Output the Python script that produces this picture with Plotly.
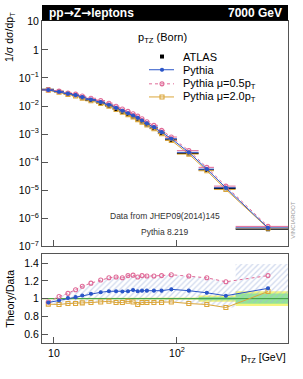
import plotly.graph_objects as go

# ---------------- data ----------------
bin_lo = [8, 10, 12, 14, 16, 18, 22, 26, 30, 34, 38, 42, 46, 50, 54, 60, 70, 80, 100, 150, 200, 300]
bin_hi = [10, 12, 14, 16, 18, 22, 26, 30, 34, 38, 42, 46, 50, 54, 60, 70, 80, 100, 150, 200, 300, 800]
atlas = [0.039, 0.033, 0.0275, 0.024, 0.020, 0.016, 0.0129, 0.0102, 0.0079, 0.0063, 0.0051,
         0.0042, 0.0035, 0.0028, 0.0022, 0.00163, 0.00108, 0.00062, 0.000205, 5.3e-5, 1.18e-5, 4.1e-7]
pythia_ratio = [0.956, 0.98, 1.007, 1.017, 1.036, 1.055, 1.072, 1.083, 1.083, 1.08, 1.083,
                1.098, 1.083, 1.09, 1.09, 1.09, 1.09, 1.105, 1.09, 1.066, 1.033, 1.116]
mu05_ratio = [0.963, 1.025, 1.06, 1.10, 1.14, 1.175, 1.21, 1.235, 1.245, 1.235, 1.26,
              1.265, 1.245, 1.26, 1.255, 1.255, 1.26, 1.27, 1.255, 1.235, 1.19, 1.26]
mu20_ratio = [0.938, 0.934, 0.945, 0.945, 0.952, 0.956, 0.963, 0.97, 0.956, 0.956, 0.97,
              0.963, 0.934, 0.956, 0.956, 0.956, 0.956, 0.963, 0.945, 0.934, 0.90, 1.08]
hatch_up = [0.963, 1.025, 1.06, 1.10, 1.14, 1.175, 1.21, 1.235, 1.245, 1.235, 1.26,
            1.265, 1.245, 1.26, 1.255, 1.255, 1.26, 1.27, 1.255, 1.235, 1.19, 1.39]
hatch_dn = [0.938, 0.934, 0.945, 0.945, 0.952, 0.956, 0.963, 0.97, 0.956, 0.956, 0.97,
            0.963, 0.934, 0.956, 0.956, 0.956, 0.956, 0.963, 0.945, 0.934, 0.90, 0.95]
data_err_tot = [0.008] * 18 + [0.012, 0.036, 0.036, 0.084]
data_err_stat = [0.004] * 18 + [0.006, 0.018, 0.018, 0.058]

centers = [(a + b) / 2 for a, b in zip(bin_lo, bin_hi)]
ex_p = [b - c for b, c in zip(bin_hi, centers)]
ex_m = [c - a for a, c in zip(bin_lo, centers)]
pythia = [d * r for d, r in zip(atlas, pythia_ratio)]
mu05 = [d * r for d, r in zip(atlas, mu05_ratio)]
mu20 = [d * r for d, r in zip(atlas, mu20_ratio)]

BLUE = "#2a55c8"
PINK = "#e06a98"
GOLD = "#dba63a"
FONT = "Liberation Sans"

SERIES = [("mu20", GOLD, "solid", "square-open", 4),
          ("mu05", PINK, "dot", "circle-open", 4),
          ("pythia", BLUE, "solid", "circle", 3)]

fig = go.Figure()

# ---------------- main panel ----------------
fig.add_trace(go.Scatter(x=centers, y=atlas, mode="markers", xaxis="x", yaxis="y",
                         marker=dict(symbol="square", size=4, color="black"),
                         error_x=dict(type="data", array=ex_p, arrayminus=ex_m, color="black",
                                      thickness=1.3, width=0),
                         error_y=dict(type="percent", value=4, color="black", thickness=1, width=0),
                         showlegend=False))
main_vals = {"mu20": mu20, "mu05": mu05, "pythia": pythia}
for key, col, dash, sym, ms in SERIES:
    fig.add_trace(go.Scatter(x=centers, y=main_vals[key], mode="lines+markers", xaxis="x", yaxis="y",
                             line=dict(color=col, width=1, dash=dash),
                             marker=dict(symbol=sym, size=ms, color=col, line=dict(color=col, width=1.1)),
                             error_x=dict(type="data", array=ex_p, arrayminus=ex_m, color=col,
                                          thickness=1, width=0),
                             showlegend=False))

# ---------------- ratio panel ----------------
def step_poly(lo, hi, up, dn):
    xs, ys = [], []
    for a, b, u in zip(lo, hi, up):
        xs += [a, b]
        ys += [u, u]
    for a, b, d in reversed(list(zip(lo, hi, dn))):
        xs += [b, a]
        ys += [d, d]
    return xs, ys

tx, ty = step_poly(bin_lo, bin_hi, [1 + e for e in data_err_tot], [1 - e for e in data_err_tot])
fig.add_trace(go.Scatter(x=tx, y=ty, fill="toself", fillcolor="#f4f47c", line=dict(width=0),
                         mode="lines", xaxis="x2", yaxis="y2", showlegend=False, hoverinfo="skip"))
sx, sy = step_poly(bin_lo, bin_hi, [1 + e for e in data_err_stat], [1 - e for e in data_err_stat])
fig.add_trace(go.Scatter(x=sx, y=sy, fill="toself", fillcolor="#94e694", line=dict(width=0),
                         mode="lines", xaxis="x2", yaxis="y2", showlegend=False, hoverinfo="skip"))

# hatched scale-variation band: through bin centres, last bin as a box
hx = centers[:-1] + [bin_lo[-1], bin_lo[-1], bin_hi[-1], bin_hi[-1], bin_lo[-1], bin_lo[-1]] + centers[:-1][::-1]
hy = hatch_up[:-1] + [hatch_up[-2], hatch_up[-1], hatch_up[-1], hatch_dn[-1], hatch_dn[-1], hatch_dn[-2]] + hatch_dn[:-1][::-1]
fig.add_trace(go.Scatter(x=hx, y=hy, fill="toself", fillcolor="rgba(0,0,0,0)",
                         fillpattern=dict(shape="/", fgcolor="#9fb2dc", size=4, solidity=0.3),
                         line=dict(width=0), mode="lines", xaxis="x2", yaxis="y2",
                         showlegend=False, hoverinfo="skip"))
fig.add_trace(go.Scatter(x=[bin_lo[0], bin_hi[-1]], y=[1, 1], mode="lines", line=dict(color="#3d9a3d", width=1),
                         xaxis="x2", yaxis="y2", showlegend=False, hoverinfo="skip"))
ratio_vals = {"mu20": mu20_ratio, "mu05": mu05_ratio, "pythia": pythia_ratio}
for key, col, dash, sym, ms in SERIES:
    fig.add_trace(go.Scatter(x=centers, y=ratio_vals[key], mode="lines+markers", xaxis="x2", yaxis="y2",
                             line=dict(color=col, width=1, dash=dash),
                             marker=dict(symbol=sym, size=ms, color=col, line=dict(color=col, width=1.1)),
                             showlegend=False))

# ---------------- legend (overlay axis in pixel units) ----------------
leg_y = [52.3, 65.7, 80, 93.3]
fig.add_trace(go.Scatter(x=[162], y=[leg_y[0]], mode="markers", xaxis="x3", yaxis="y3",
                         marker=dict(symbol="square", size=4, color="black"), showlegend=False))
for yy, (key, col, dash, sym, ms) in zip(leg_y[1:], SERIES[::-1]):
    fig.add_trace(go.Scatter(x=[149, 174], y=[yy, yy], mode="lines", xaxis="x3", yaxis="y3",
                             line=dict(color=col, width=1, dash=dash), showlegend=False))
    fig.add_trace(go.Scatter(x=[162], y=[yy], mode="markers", xaxis="x3", yaxis="y3",
                             marker=dict(symbol=sym, size=ms, color=col, line=dict(color=col, width=1.1)),
                             showlegend=False))

W, H = 303, 379
L, R, T, B = 42, 15, 0, 36
PW, PH = W - L - R, H - T - B


def px(x):
    return (x - L) / PW


def py(y):
    return (PH - y) / PH


ann = []


def text(x, y, s, size=11, color="black", xa="left", ya="middle", angle=0, bold=False):
    ann.append(dict(x=px(x), y=py(y), xref="paper", yref="paper", text=(f"<b>{s}</b>" if bold else s),
                    showarrow=False, xanchor=xa, yanchor=ya, textangle=angle,
                    font=dict(family=FONT, size=size, color=color)))


ARROW = "<span style='font-family:DejaVu Sans'>→</span>"
text(47, 8.5, f"pp{ARROW}Z{ARROW}leptons", 12, "white", bold=True)
text(284, 8.5, "7000 GeV", 12, "white", xa="right", bold=True)
text(136, 33, "p<sub>TZ</sub> (Born)", 11)
for yy, s in zip(leg_y, ["ATLAS", "Pythia", "Pythia μ=0.5p<sub>T</sub>", "Pythia μ=2.0p<sub>T</sub>"]):
    text(181, yy, s, 11)
text(164.5, 214, "Data from JHEP09(2014)145", 8.5, "#333", xa="center")
text(164.5, 230, "Pythia 8.219", 8.5, "#333", xa="center")
text(293, 218, "VINCIAROOT", 6, "#999", xa="center", angle=-90)
text(10, 5, "1/σ dσ/dp<sub>T</sub>", 10.5, xa="center", ya="top", angle=-90)
text(10, 298, "Theory/Data", 10.5, xa="center", angle=-90)
text(288, 358, "p<sub>TZ</sub> [GeV]", 10.5, xa="right")

yh = 16
shapes = [dict(type="rect", xref="paper", yref="paper", x0=0, x1=1, y0=py(yh), y1=py(0),
               fillcolor="black", line=dict(width=0), layer="above")]

# tick positions (layout only)
x_major = [10, 100]
x_minor = [9] + [k * 10 for k in range(2, 10)] + [k * 100 for k in range(2, 9)]
y_major = [10.0 ** p for p in range(-7, 2)]
y_major_txt = ["10<sup>−%d</sup>" % (-p) for p in range(-7, 0)] + ["1", "10"]
y_minor = [k * 10.0 ** p for p in range(-7, 1) for k in range(2, 10)]

axcol = "#555"
tickfont = dict(family=FONT, size=10.5, color="black")
XR = [0.903, 2.903]
YR = [-7, 1.035]


def xax(**kw):
    d = dict(type="log", range=XR, ticks="inside", tickcolor=axcol, showgrid=False, zeroline=False,
             showline=True, linecolor=axcol, mirror=True, tickfont=tickfont)
    d.update(kw)
    return d


fig.update_layout(
    width=W, height=H, margin=dict(l=L, r=R, t=T, b=B),
    paper_bgcolor="white", plot_bgcolor="rgba(0,0,0,0)",
    font=dict(family=FONT, size=10.5, color="black"),
    xaxis=xax(anchor="y", domain=[0, 1], tickvals=x_major, ticklen=6, showticklabels=False),
    xaxis4=xax(anchor="y", overlaying="x", side="bottom", tickvals=x_minor, ticklen=3,
               showticklabels=False, showline=False),
    yaxis=dict(type="log", range=YR, domain=[py(245), py(yh)], anchor="x",
               tickvals=y_major, ticktext=y_major_txt, ticklen=6, ticks="inside", tickcolor=axcol,
               showgrid=False, zeroline=False, showline=True, linecolor=axcol, mirror=True,
               tickfont=tickfont),
    yaxis5=dict(type="log", range=YR, anchor="x", overlaying="y", side="left",
                tickvals=y_minor, ticks="inside", ticklen=3, showticklabels=False,
                tickcolor=axcol, showgrid=False, zeroline=False, showline=False),
    xaxis2=xax(anchor="y2", domain=[0, 1], tickvals=x_major, ticktext=["10", "10<sup>2</sup>"], ticklen=6),
    xaxis6=xax(anchor="y2", overlaying="x2", side="bottom", tickvals=x_minor, ticklen=3,
               showticklabels=False, showline=False),
    yaxis2=dict(range=[0.5, 1.5], domain=[0, py(253)], anchor="x2",
                tickvals=[0.6, 0.8, 1.0, 1.2, 1.4], ticktext=["0.6", "0.8", "1", "1.2", "1.4"],
                ticks="inside", ticklen=6, tickcolor=axcol, showgrid=False, zeroline=False,
                showline=True, linecolor=axcol, mirror=True, tickfont=tickfont),
    yaxis6=dict(range=[0.5, 1.5], anchor="x2", overlaying="y2", side="left",
                tickvals=[0.55, 0.65, 0.7, 0.75, 0.85, 0.9, 0.95, 1.05, 1.1, 1.15, 1.25, 1.3, 1.35, 1.45],
                ticks="inside", ticklen=3, tickcolor=axcol, showticklabels=False,
                showgrid=False, zeroline=False, showline=False),
    xaxis3=dict(domain=[0, 1], range=[L, L + PW], visible=False, anchor="y3"),
    yaxis3=dict(domain=[0, 1], range=[PH, 0], visible=False, anchor="x3"),
    annotations=ann, shapes=shapes,
)

fig.write_html("out.html", config={"displayModeBar": False, "staticPlot": True},
               post_script="document.body.style.margin='0';document.body.style.overflow='hidden';")
